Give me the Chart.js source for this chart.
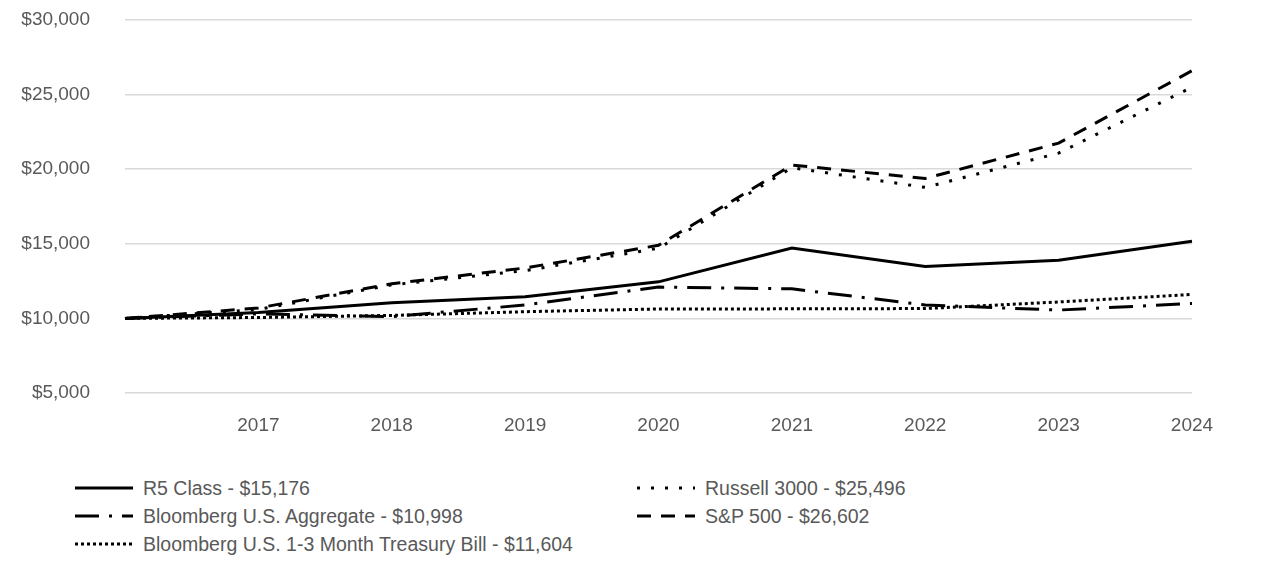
<!DOCTYPE html>
<html lang="en">
<head>
    <meta charset="UTF-8">
    <title>Growth of $10,000</title>
    <script src="https://cdn.jsdelivr.net/npm/chart.js"></script>
    <style>
        body {
            margin: 0;
            background: #fff;
            font-family: 'Liberation Sans', Arial, sans-serif;
            color: #595959;
        }
        .chart-box {
            position: relative;
            width: 1286px;
            height: 450px;
        }
        .legend {
            position: absolute;
            left: 0;
            top: 474px;
            width: 1286px;
        }
        .legend-item {
            position: absolute;
            height: 28px;
            display: flex;
            align-items: center;
            font-size: 19.5px;
            white-space: nowrap;
        }
        .legend-item canvas {
            margin-right: 10px;
        }
    </style>
</head>
<body>
    <div class="chart-box">
        <canvas id="growthChart"></canvas>
    </div>
    <div class="legend" id="legend"></div>

    <script>
        const years = ['2016', '2017', '2018', '2019', '2020', '2021', '2022', '2023', '2024'];

        const r5Class     = [10000, 10400, 11050, 11450, 12450, 14720, 13480, 13900, 15176];
        const russell3000 = [10000, 10600, 12250, 13200, 14700, 20100, 18780, 21080, 25496];
        const bbgAggregate = [10000, 10300, 10120, 10900, 12100, 11980, 10900, 10560, 10998];
        const sp500       = [10000, 10700, 12320, 13380, 14900, 20280, 19380, 21750, 26602];
        const bbgTBill    = [10000, 10060, 10200, 10450, 10630, 10640, 10660, 11100, 11604];

        const seriesNames = [
            'R5 Class - $15,176',
            'Russell 3000 - $25,496',
            'Bloomberg U.S. Aggregate - $10,998',
            'S&P 500 - $26,602',
            'Bloomberg U.S. 1-3 Month Treasury Bill - $11,604'
        ];

        const textColor = '#595959';
        const fontFamily = "'Liberation Sans', Arial, sans-serif";

        function lineSet(label, data, dash) {
            return {
                label: label,
                data: data,
                borderColor: '#000',
                backgroundColor: '#000',
                borderWidth: 3,
                borderDash: dash,
                pointRadius: 0,
                tension: 0,
                fill: false
            };
        }

        const datasets = [
            lineSet(seriesNames[0], r5Class, []),
            lineSet(seriesNames[1], russell3000, [3, 11]),
            lineSet(seriesNames[2], bbgAggregate, [24, 10, 3, 10]),
            lineSet(seriesNames[3], sp500, [14, 10]),
            lineSet(seriesNames[4], bbgTBill, [3, 3])
        ];

        const ctx = document.getElementById('growthChart').getContext('2d');
        const chart = new Chart(ctx, {
            type: 'line',
            data: { labels: years, datasets: datasets },
            options: {
                responsive: true,
                maintainAspectRatio: false,
                animation: false,
                layout: { padding: { top: 20, right: 94, bottom: 0, left: 0 } },
                plugins: {
                    legend: { display: false },
                    tooltip: { enabled: false }
                },
                scales: {
                    x: {
                        offset: false,
                        grid: { display: false, drawTicks: false },
                        border: { display: false },
                        afterFit: function(scale) { scale.height = 57; },
                        ticks: {
                            padding: 21,
                            maxRotation: 0,
                            color: textColor,
                            font: { family: fontFamily, size: 19 },
                            callback: function(value, index) {
                                return index === 0 ? '' : years[index];
                            }
                        }
                    },
                    y: {
                        min: 5000,
                        max: 30000,
                        grid: {
                            color: '#d9d9d9',
                            lineWidth: 1.5,
                            drawTicks: true,
                            tickLength: 35,
                            tickColor: 'rgba(0,0,0,0)'
                        },
                        border: { display: false },
                        afterFit: function(scale) { scale.width = 125; },
                        ticks: {
                            stepSize: 5000,
                            padding: 0,
                            color: textColor,
                            font: { family: fontFamily, size: 19 },
                            callback: function(value) {
                                return '$' + value.toLocaleString('en-US');
                            }
                        }
                    }
                }
            }
        });

        // two-column legend under the chart, built from the datasets
        const legendSlots = [
            { left: 75, top: 0 }, { left: 637, top: 0 },
            { left: 75, top: 28 }, { left: 637, top: 28 },
            { left: 75, top: 56 }
        ];
        const legendEl = document.getElementById('legend');
        chart.data.datasets.forEach(function(ds, i) {
            const item = document.createElement('div');
            item.className = 'legend-item';
            item.style.left = legendSlots[i].left + 'px';
            item.style.top = legendSlots[i].top + 'px';

            const sample = document.createElement('canvas');
            sample.width = 58;
            sample.height = 10;
            const sc = sample.getContext('2d');
            sc.strokeStyle = ds.borderColor;
            sc.lineWidth = ds.borderWidth;
            sc.setLineDash(ds.borderDash);
            sc.beginPath();
            sc.moveTo(0, 5);
            sc.lineTo(58, 5);
            sc.stroke();

            const text = document.createElement('span');
            text.textContent = ds.label;

            item.appendChild(sample);
            item.appendChild(text);
            legendEl.appendChild(item);
        });
    </script>
</body>
</html>
